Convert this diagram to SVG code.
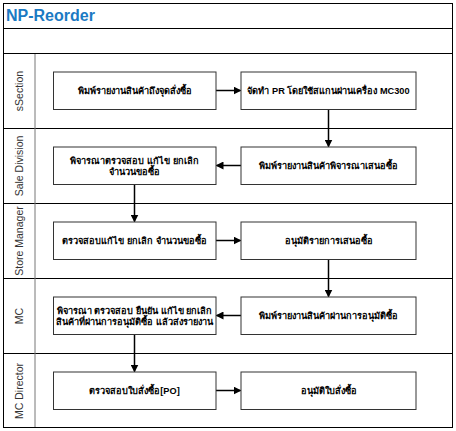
<svg xmlns="http://www.w3.org/2000/svg" width="456" height="431" viewBox="0 0 456 431">
<style>
.frame{fill:#fff;stroke:#000;stroke-width:1}
.lane{fill:none;stroke:#000;stroke-width:1}
.hdr{fill:none;stroke:#777;stroke-width:1}
.box{fill:#fff;stroke:#333;stroke-width:1}
.t{font-family:"Liberation Sans","DejaVu Sans","Noto Sans",sans-serif;font-size:9.2px;font-weight:bold;fill:#000;text-anchor:middle}
.lt{font-family:"Liberation Sans","Noto Sans",sans-serif;font-size:10.5px;fill:#333;text-anchor:middle}
.title{font-family:"Liberation Sans",Arial,sans-serif;font-size:16px;font-weight:bold;fill:#1b7ac3}
.c{fill:none;stroke:#000;stroke-width:1.5;marker-end:url(#ah)}
</style>
<defs>
<marker id="ah" markerWidth="8" markerHeight="8" refX="7" refY="4" orient="auto" markerUnits="userSpaceOnUse">
<path d="M0,0 L8,4 L0,8 Z" fill="#000"/>
</marker>
</defs>
<rect x="3.5" y="3.5" width="449" height="424" class="frame"/>
<text x="6" y="21" class="title">NP-Reorder</text>
<line x1="3.5" y1="28.5" x2="452.5" y2="28.5" class="lane"/>
<line x1="3.5" y1="53.5" x2="452.5" y2="53.5" class="lane"/>
<g id="lanes">
<line x1="3.5" y1="128.5" x2="452.5" y2="128.5" class="lane"/>
<line x1="3.5" y1="203.5" x2="452.5" y2="203.5" class="lane"/>
<line x1="3.5" y1="278.5" x2="452.5" y2="278.5" class="lane"/>
<line x1="3.5" y1="353.5" x2="452.5" y2="353.5" class="lane"/>
<line x1="35" y1="54" x2="35" y2="427" class="hdr"/>
<text class="lt" transform="translate(22.5,91) rotate(-90)">sSection</text>
<text class="lt" transform="translate(22.5,166) rotate(-90)">Sale Division</text>
<text class="lt" transform="translate(22.5,241) rotate(-90)">Store Manager</text>
<text class="lt" transform="translate(22.5,316) rotate(-90)">MC</text>
<text class="lt" transform="translate(22.5,391) rotate(-90)">MC Director</text>
</g>
<g id="connectors">
<line x1="216" y1="90.5" x2="240.5" y2="90.5" class="c"/>
<line x1="328.5" y1="109.5" x2="328.5" y2="146.5" class="c"/>
<line x1="241" y1="165.5" x2="216.5" y2="165.5" class="c"/>
<line x1="134.5" y1="184.5" x2="134.5" y2="221.5" class="c"/>
<line x1="216" y1="240.5" x2="240.5" y2="240.5" class="c"/>
<line x1="328.5" y1="259.5" x2="328.5" y2="296.5" class="c"/>
<line x1="241" y1="315.5" x2="216.5" y2="315.5" class="c"/>
<line x1="134.5" y1="334.5" x2="134.5" y2="371.5" class="c"/>
<line x1="216" y1="390.5" x2="240.5" y2="390.5" class="c"/>
</g>
<g id="n1"><rect x="53.5" y="72" width="162.5" height="37.5" class="box"/><text x="134.5" y="94" class="t">พิมพ์รายงานสินค้าถึงจุดสั่งซื้อ</text></g>
<g id="n2"><rect x="241" y="72" width="175" height="37.5" class="box"/><text x="328.5" y="94" class="t">จัดทำ PR โดยใช้สแกนผ่านเครื่อง MC300</text></g>
<g id="n3"><rect x="241" y="147" width="175" height="37.5" class="box"/><text x="328.5" y="169" class="t">พิมพ์รายงานสินค้าพิจารณาเสนอซื้อ</text></g>
<g id="n4"><rect x="53.5" y="147" width="162.5" height="37.5" class="box"/><text x="134.5" y="163.5" class="t">พิจารณาตรวจสอบ แก้ไข ยกเลิก</text><text x="134.5" y="175" class="t">จำนวนขอซื้อ</text></g>
<g id="n5"><rect x="53.5" y="222" width="162.5" height="37.5" class="box"/><text x="134.5" y="244" class="t">ตรวจสอบแก้ไข ยกเลิก จำนวนขอซื้อ</text></g>
<g id="n6"><rect x="241" y="222" width="175" height="37.5" class="box"/><text x="328.5" y="244" class="t">อนุมัติรายการเสนอซื้อ</text></g>
<g id="n7"><rect x="241" y="297" width="175" height="37.5" class="box"/><text x="328.5" y="319" class="t">พิมพ์รายงานสินค้าผ่านการอนุมัติซื้อ</text></g>
<g id="n8"><rect x="53.5" y="297" width="162.5" height="37.5" class="box"/><text x="134.5" y="313.5" class="t">พิจารณา ตรวจสอบ ยืนยัน แก้ไข ยกเลิก</text><text x="134.5" y="325" class="t">สินค้าที่ผ่านการอนุมัติซื้อ แล้วส่งรายงาน</text></g>
<g id="n9"><rect x="53.5" y="372" width="162.5" height="37.5" class="box"/><text x="134.5" y="394" class="t">ตรวจสอบใบสั่งซื้อ[PO]</text></g>
<g id="n10"><rect x="241" y="372" width="175" height="37.5" class="box"/><text x="328.5" y="394" class="t">อนุมัติใบสั่งซื้อ</text></g>
</svg>
